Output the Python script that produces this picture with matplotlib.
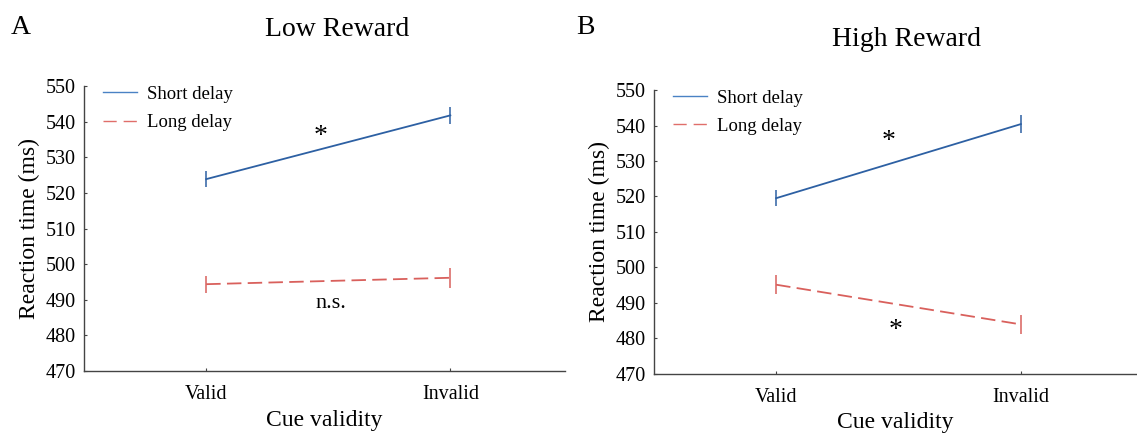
import matplotlib.pyplot as plt
from matplotlib.lines import Line2D

plt.rcParams['font.family'] = ['Liberation Serif', 'DejaVu Serif']

conditions = ['Valid', 'Invalid']
x_pos = [1, 2]

# Low reward panel
low_short = [523.9, 541.8]
low_short_err = [2.3, 2.3]
low_long = [494.4, 496.2]
low_long_err = [2.4, 2.8]

# High reward panel
high_short = [519.5, 540.4]
high_short_err = [2.3, 2.6]
high_long = [495.1, 483.9]
high_long_err = [2.6, 2.7]

blue = '#2d60a3'
red = '#d9605c'
long_dash = (8, 3.5)

fig = plt.figure(figsize=(11.37, 4.33), dpi=100)
ax_a = fig.add_axes([0.074, 0.143, 0.423, 0.658])
ax_b = fig.add_axes([0.575, 0.137, 0.424, 0.655])


def draw_panel(ax, short, short_err, long_, long_err, title, title_y):
    ax.errorbar(x_pos, short, yerr=short_err, color=blue, lw=1.3,
                capsize=0, elinewidth=1.1)
    ax.errorbar(x_pos, long_, yerr=long_err, color=red, lw=1.3,
                capsize=0, elinewidth=1.1, dashes=long_dash)
    ax.set_xlim(0.5, 2.47)
    ax.set_ylim(470, 550)
    ax.set_yticks(range(470, 551, 10))
    ax.set_xticks(x_pos)
    ax.set_xticklabels(conditions)
    ax.tick_params(direction='in', length=2, width=0.8, labelsize=14.5,
                   color='#444444')
    ax.tick_params(axis='x', pad=10)
    ax.tick_params(axis='y', pad=6)
    for side in ['top', 'right']:
        ax.spines[side].set_visible(False)
    for side in ['left', 'bottom']:
        ax.spines[side].set_color('#444444')
        ax.spines[side].set_linewidth(1.0)
    ax.set_xlabel('Cue validity', fontsize=17, labelpad=4)
    ax.set_ylabel('Reaction time (ms)', fontsize=17, labelpad=4)
    ax.text(0.525, title_y, title, transform=ax.transAxes, fontsize=20,
            ha='center', va='center')
    handles = [Line2D([], [], color='#4a82c4', lw=1.0),
               Line2D([], [], color='#e06e6a', lw=1.0, dashes=(9.5, 5))]
    ax.legend(handles, ['Short delay', 'Long delay'], loc='upper left',
              frameon=False, fontsize=13.5, handlelength=1.8,
              handletextpad=0.55, borderaxespad=0.1, labelspacing=0.6,
              bbox_to_anchor=(0.02, 1.035))


draw_panel(ax_a, low_short, low_short_err, low_long, low_long_err,
           'Low Reward', 1.20)
ax_a.text(1.47, 535.8, '*', fontsize=20, ha='center', va='center')
ax_a.text(1.51, 489.0, 'n.s.', fontsize=16, ha='center', va='center')

draw_panel(ax_b, high_short, high_short_err, high_long, high_long_err,
           'High Reward', 1.18)
ax_b.text(1.46, 535.5, '*', fontsize=20, ha='center', va='center')
ax_b.text(1.49, 482.2, '*', fontsize=20, ha='center', va='center')

fig.text(0.018, 0.937, 'A', fontsize=20, ha='center', va='center')
fig.text(0.515, 0.937, 'B', fontsize=20, ha='center', va='center')

fig.savefig('out.png', dpi=100)
